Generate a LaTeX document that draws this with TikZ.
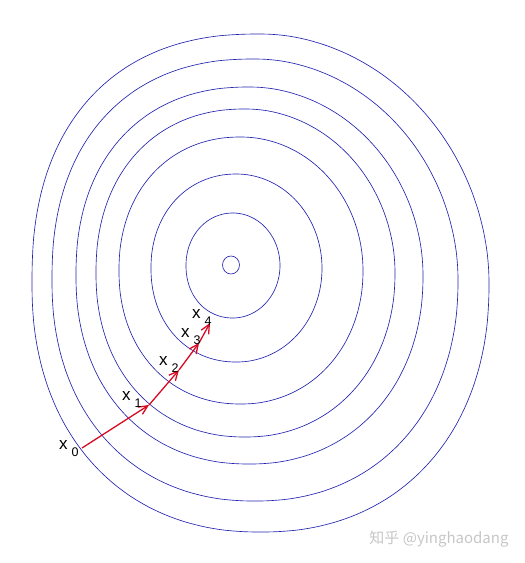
\documentclass[tikz,border=0pt]{standalone}
\usepackage{fontspec}
\setmainfont{Liberation Sans}
\newfontfamily\cjkfont{Noto Sans CJK SC}
\usetikzlibrary{arrows.meta}

\definecolor{levelblue}{RGB}{35,35,175}
\definecolor{steepred}{RGB}{215,10,35}
\tikzset{
  level/.style={levelblue, line width=0.65pt},
  descent/.style={steepred, line width=1.3pt, -{Straight Barb[length=9pt,width=8.5pt]}},
  xlab/.style={anchor=base west, inner sep=0pt, font=\fontsize{17}{17}\selectfont},
}
\newcommand{\xsub}[1]{x\hspace{4pt}\raisebox{-7pt}{\fontsize{12.5}{12.5}\selectfont #1}}

\begin{document}
\begin{tikzpicture}[x=1pt,y=-1pt]
    \useasboundingbox (0,0) rectangle (525,563);
    % level sets, inner to outer
    \foreach \cx/\cy/\rx/\ry/\ntl/\ntr/\nbl/\nbr in {
        233/265.5/47/52.5/2.05/2.0/2.1/2.0,
        236.5/268/85.5/94/2.1/2.0/2.12/2.03,
        241/270.5/122/133.5/2.15/2.0/2.14/2.07,
        245.5/273/149.5/164/2.2/1.98/2.16/2.1,
        249.5/275.5/173.5/188.5/2.25/1.97/2.18/2.13,
        255/280/203/221/2.3/1.96/2.19/2.17,
        260.5/283/228.5/249/2.35/1.95/2.2/2.2}
      \draw[level] plot[smooth cycle, domain=2.5:357.5, samples=72, variable=\ang]
        ({\cx+\rx*sign(cos(\ang))*pow(abs(cos(\ang)),2/(cos(\ang)<0 ? (sin(\ang)<0 ? \ntl : \nbl) : (sin(\ang)<0 ? \ntr : \nbr)))},
         {\cy+\ry*sign(sin(\ang))*pow(abs(sin(\ang)),2/(cos(\ang)<0 ? (sin(\ang)<0 ? \ntl : \nbl) : (sin(\ang)<0 ? \ntr : \nbr)))});
    \draw[level] (231,265) ellipse [x radius=8.5pt, y radius=9pt];

    % descent steps
    \coordinate (x0) at (82,448);
    \coordinate (x1) at (149,405);
    \coordinate (x2) at (179,370);
    \coordinate (x3) at (199,343);
    \coordinate (x4) at (210,323);
    \draw[descent] (x0) -- (x1);
    \draw[descent] (x1) -- (x2);
    \draw[descent] (x2) -- (x3);
    \draw[descent] (x3) -- (x4);

    \node[xlab] (lab0) at (59,449) {\xsub{0}};
    \node[xlab] (lab1) at (122,400) {\xsub{1}};
    \node[xlab] (lab2) at (159,365) {\xsub{2}};
    \node[xlab] (lab3) at (181,337) {\xsub{3}};
    \node[xlab] (lab4) at (192,318) {\xsub{4}};

    \node[text=gray!45, font=\cjkfont\fontsize{15}{15}\selectfont] (mark) at (439,539) {知乎 @yinghaodang};
\end{tikzpicture}
\end{document}
